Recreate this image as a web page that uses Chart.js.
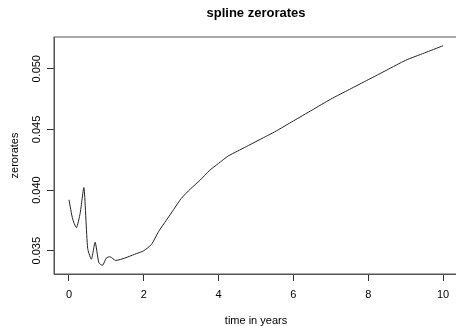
<!DOCTYPE html>
<html>
<head>
<meta charset="utf-8">
<script src="https://cdn.jsdelivr.net/npm/chart.js@4"></script>
<style>
  html, body { margin: 0; padding: 0; background: #fff; overflow: hidden; }
  #wrap { width: 462px; height: 326px; }
</style>
</head>
<body>
<div id="wrap"><canvas id="chart"></canvas></div>
<script>
// values
const times = [0, 0.1, 0.2, 0.3, 0.4, 0.5, 0.6, 0.7, 0.8, 0.9, 1.0, 1.1, 1.25, 1.5, 1.75,
  2.0, 2.2, 2.4, 2.6, 2.8, 3.0, 3.25, 3.5, 3.75, 4.0, 4.25, 4.5, 4.75, 5.0, 5.25, 5.5,
  6.0, 6.5, 7.0, 7.5, 8.0, 8.5, 9.0, 9.5, 10.0]
const zerorates = [0.0392, 0.0376, 0.0369, 0.0381, 0.0402, 0.0352, 0.0343, 0.0357, 0.0340, 0.0338, 0.0344, 0.0345, 0.0342, 0.0344, 0.0347,
  0.0350, 0.0355, 0.0366, 0.0375, 0.0384, 0.0393, 0.0401, 0.0408, 0.0416, 0.0422, 0.0428, 0.0432, 0.0436, 0.0440, 0.0444, 0.0448,
  0.0457, 0.0466, 0.0475, 0.0483, 0.0491, 0.0499, 0.0507, 0.0513, 0.0519]
const xTicks = [0, 2, 4, 6, 8, 10]
const yTicks = [0.035, 0.040, 0.045, 0.050]

Chart.defaults.font.family = "'Liberation Sans', Arial, sans-serif"
Chart.defaults.font.size = 11
Chart.defaults.color = "#000"

const frame = {
  id: "frame",
  afterDraw(chart) {
    const {ctx, chartArea: a} = chart
    ctx.save()
    ctx.strokeStyle = "#555"
    ctx.lineWidth = 1
    ctx.strokeRect(a.left, a.top, a.right - a.left, a.bottom - a.top)
    ctx.fillStyle = "#000"
    ctx.font = "bold 13px 'Liberation Sans', Arial, sans-serif"
    ctx.textAlign = "center"
    ctx.textBaseline = "middle"
    ctx.fillText("spline zerorates", (a.left + a.right) / 2, 13)
    ctx.restore()
  }
}

new Chart(document.getElementById("chart"), {
  type: "line",
  data: {
    datasets: [{
      data: times.map((t, i) => ({x: t, y: zerorates[i]})),
      borderColor: "#222",
      borderWidth: 1,
      pointRadius: 0,
      tension: 0.2,
      fill: false
    }]
  },
  options: {
    responsive: true,
    maintainAspectRatio: false,
    animation: false,
    layout: {padding: {top: 37, right: 4, left: 0, bottom: 0}},
    plugins: {legend: {display: false}, tooltip: {enabled: false}},
    scales: {
      x: {
        type: "linear",
        min: -0.4,
        max: 10.4,
        afterBuildTicks: s => { s.ticks = xTicks.map(v => ({value: v})) },
        afterFit: s => { s.height = 52; s.paddingLeft = 0; s.paddingRight = 0 },
        grid: {display: true, drawOnChartArea: false, drawTicks: true, tickLength: 7, color: "#333"},
        border: {display: true, color: "#555"},
        ticks: {padding: 7, maxRotation: 0, callback: v => String(v)},
        title: {display: true, text: "time in years", font: {size: 11, lineHeight: 1}, padding: 0}
      },
      y: {
        min: 0.03308,
        max: 0.05262,
        afterBuildTicks: s => { s.ticks = yTicks.map(v => ({value: v})) },
        afterFit: s => { s.width = 54; s.paddingTop = 0; s.paddingBottom = 0 },
        grid: {display: true, drawOnChartArea: false, drawTicks: true, tickLength: 7, color: "#333"},
        border: {display: true, color: "#555"},
        ticks: {padding: -3.5, minRotation: 90, maxRotation: 90, crossAlign: "center", callback: v => v.toFixed(3)},
        title: {display: true, text: "zerorates", font: {size: 11, lineHeight: 1}, padding: {top: 9, bottom: 0}}
      }
    }
  },
  plugins: [frame]
})
</script>
</body>
</html>
